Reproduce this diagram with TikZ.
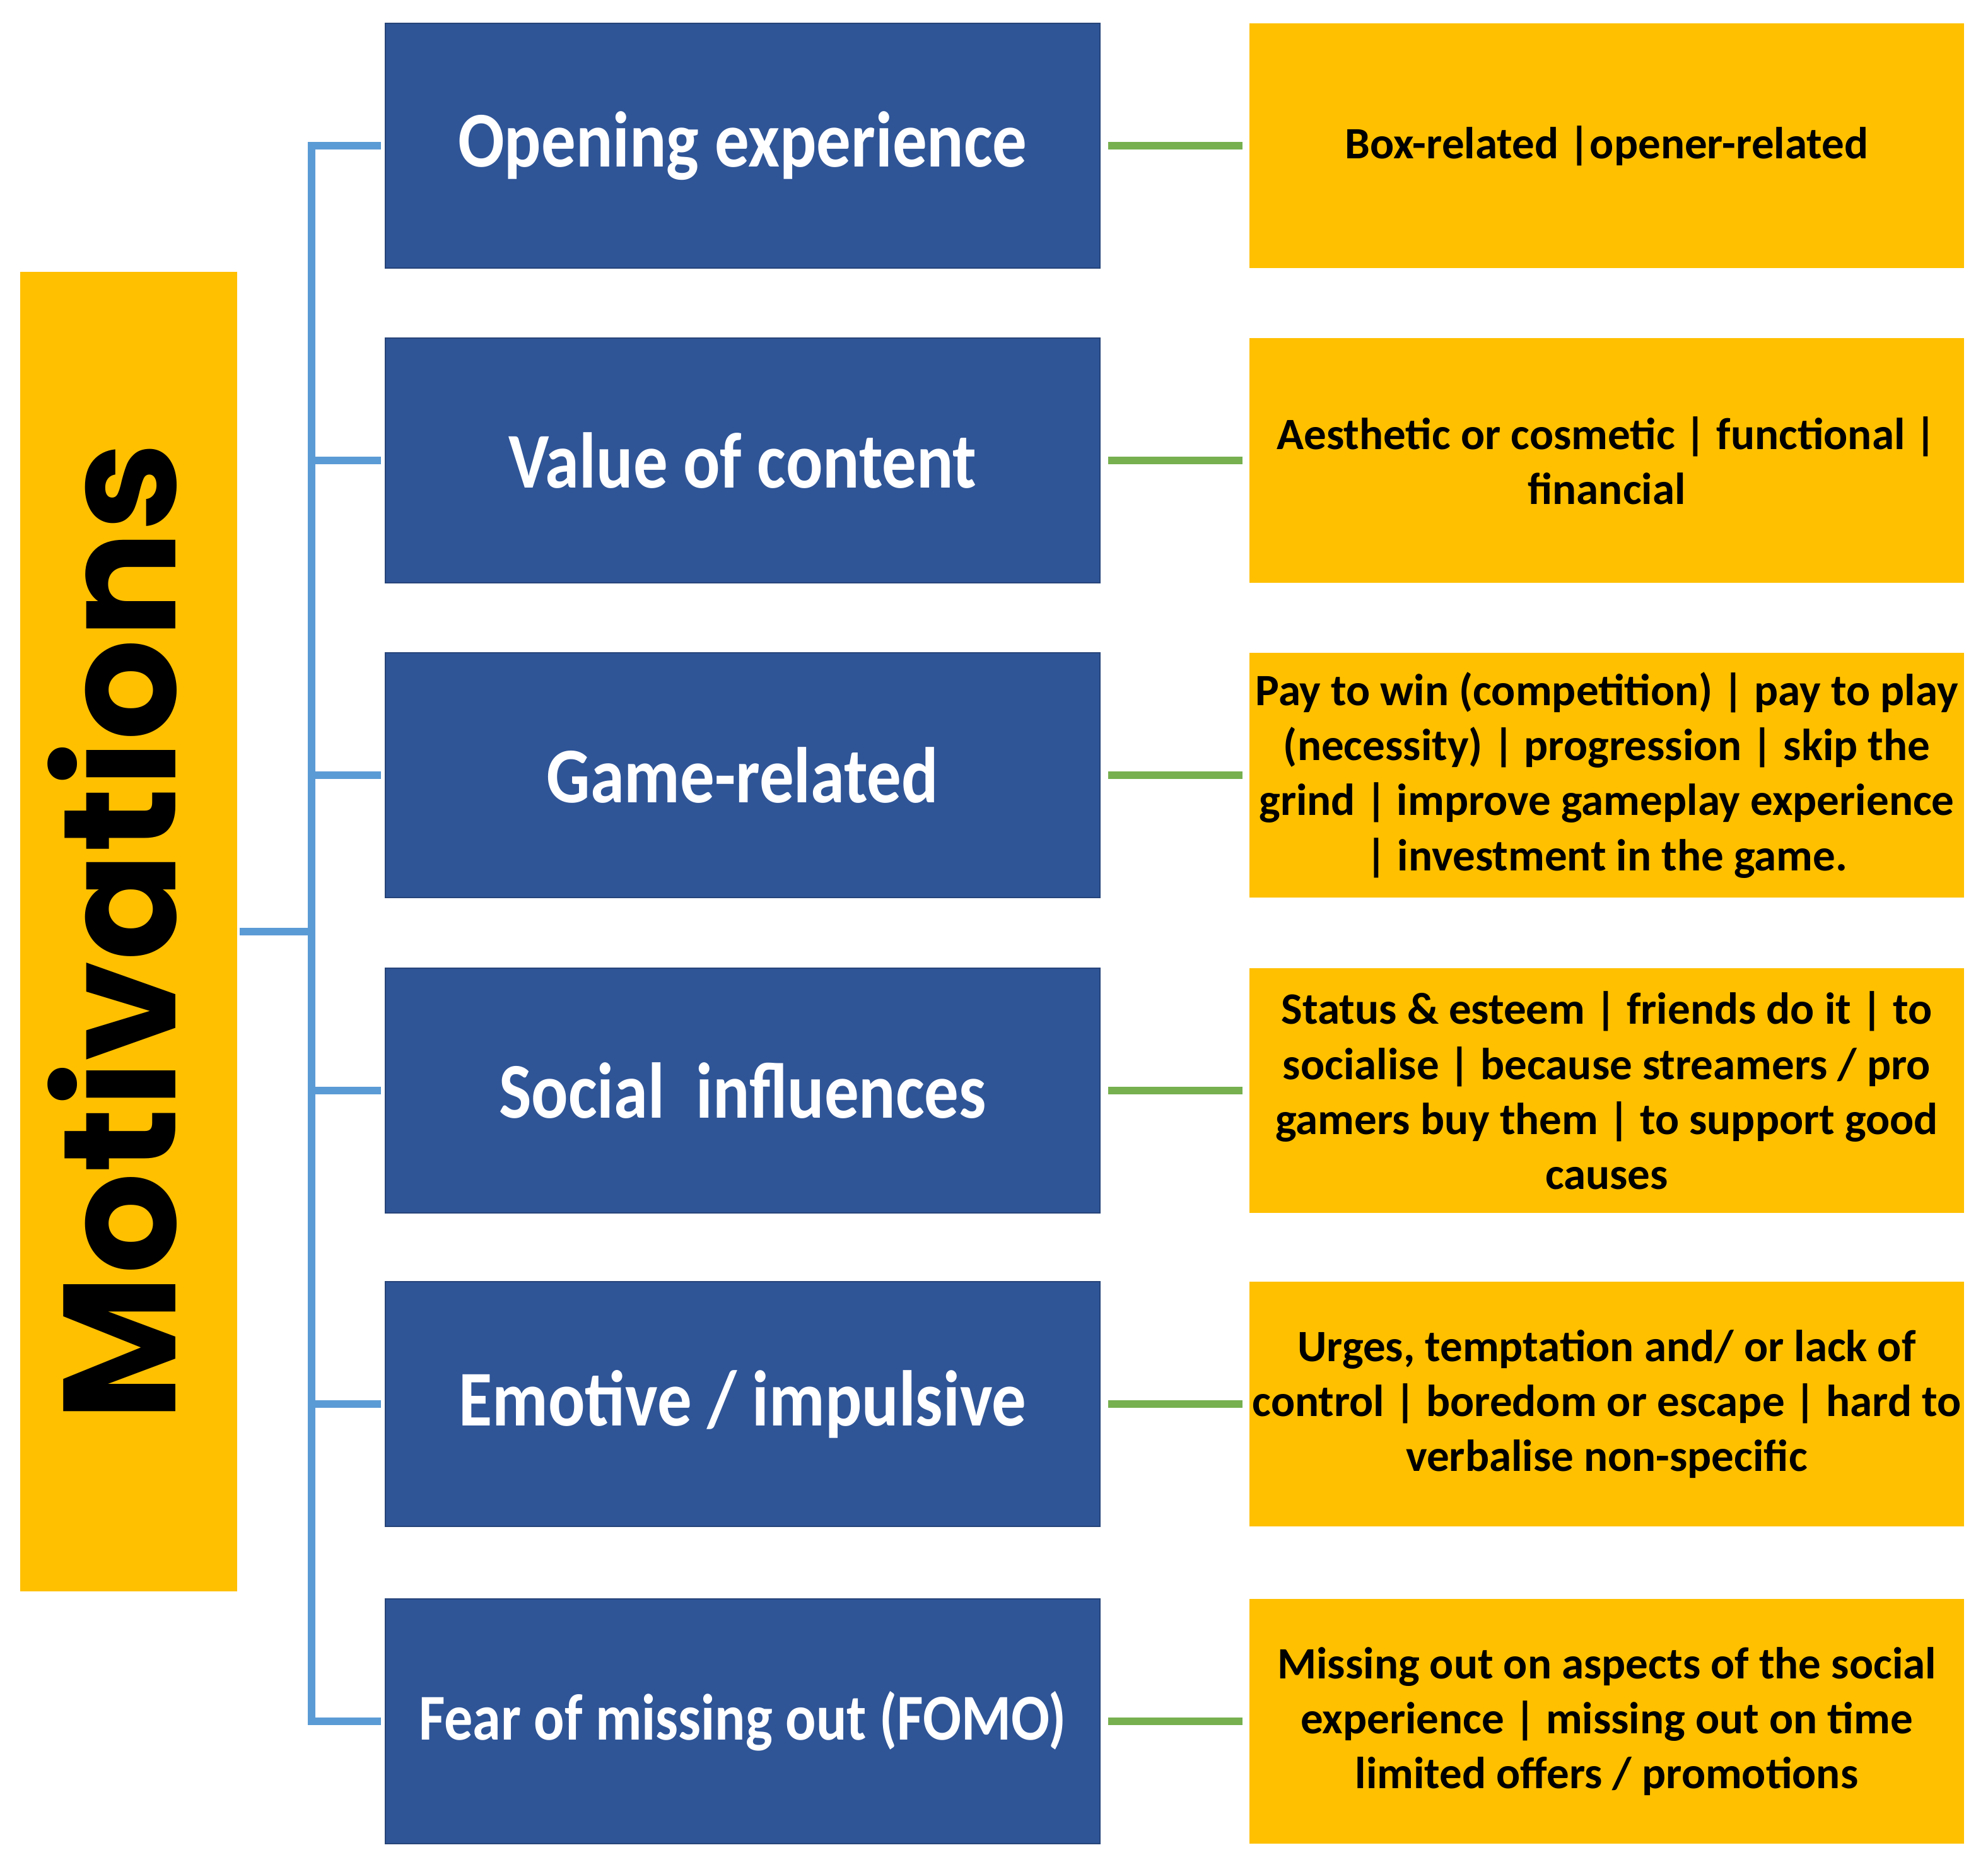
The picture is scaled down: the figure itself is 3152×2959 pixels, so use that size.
\documentclass[tikz,border=0pt]{standalone}
\usepackage{fontspec}
\usepackage{graphicx}
\setmainfont{Carlito}
\newfontfamily\labelfont[FakeStretch=0.87]{Carlito}
\newfontfamily\titlefont{Poppins}
\definecolor{boxblue}{HTML}{2F5597}
\definecolor{boxorange}{HTML}{FFC000}
\definecolor{linkgreen}{HTML}{76B04F}
\definecolor{linkblue}{HTML}{5B9BD5}

\begin{document}
\begin{tikzpicture}[x=0.01cm, y=-0.01cm,
  motif/.style={fill=boxblue, draw=boxblue!80!black, line width=0.6pt,
    minimum width=11.33cm, minimum height=3.87cm, inner sep=0pt, text=white,
    font={\labelfont\bfseries\fontsize{35.6}{42}\selectfont}},
  detail/.style={fill=boxorange, minimum width=11.33cm, minimum height=3.87cm,
    inner sep=0pt, align=center,
    font={\bfseries\fontsize{20.2}{24.8}\selectfont}},
  branche/.style={linkblue, line width=3.2pt, line cap=rect},
  lien/.style={linkgreen, line width=3.4pt, shorten <=0.12cm, shorten >=0.1cm}]
  \useasboundingbox (0,0) rectangle (3152,2959);
  % Titre
  \node[fill=boxorange, minimum width=3.43cm, minimum height=20.91cm, inner sep=0pt]
    (motiv) at (204,1477) {\rotatebox{90}{\raisebox{0.26cm}[\height][\depth]{%
      \titlefont\bfseries\fontsize{72}{80}\selectfont Motivations}}};
  % Motivations
  \node[motif] (blue1) at (1177.5,231) {Opening experience};
  \node[motif] (blue2) at (1177.5,730) {Value of content};
  \node[motif] (blue3) at (1177.5,1229) {Game-related};
  \node[motif] (blue4) at (1177.5,1729) {Social~~influences};
  \node[motif] (blue5) at (1177.5,2226) {Emotive / impulsive};
  \node[motif, font={\labelfont\bfseries\fontsize{29.5}{36}\selectfont}]
    (blue6) at (1177.5,2729) {Fear of missing out (FOMO)};
  % Details
  \node[detail] (note1) at (2547.5,231) {Box-related |opener-related};
  \node[detail] (note2) at (2547.5,730) {Aesthetic or cosmetic | functional |\\ financial};
  \node[detail] (note3) at (2547.5,1229) {Pay to win (competition) | pay to play\\
    (necessity) | progression | skip the\\ grind | improve gameplay experience\\
    | investment in the game.};
  \node[detail] (note4) at (2547.5,1729) {Status \& esteem | friends do it | to\\
    socialise | because streamers / pro\\ gamers buy them | to support good\\ causes};
  \node[detail] (note5) at (2547.5,2226) {Urges, temptation and/ or lack of\\
    control | boredom or escape | hard to\\ verbalise non-specific};
  \node[detail] (note6) at (2547.5,2729) {Missing out on aspects of the social\\
    experience | missing out on time\\ limited offers / promotions};
  % Accolade
  \coordinate (spine) at (494,1477);
  \draw[branche, shorten <=0.09cm] (motiv.east) -- (spine);
  \draw[branche] (spine |- blue1.west) -- (spine |- blue6.west);
  \foreach \i in {1,...,6} {
    \draw[branche, shorten >=0.11cm] (spine |- blue\i.west) -- (blue\i.west);
    \draw[lien] (blue\i.east) -- (note\i.west);
  }
\end{tikzpicture}
\end{document}
